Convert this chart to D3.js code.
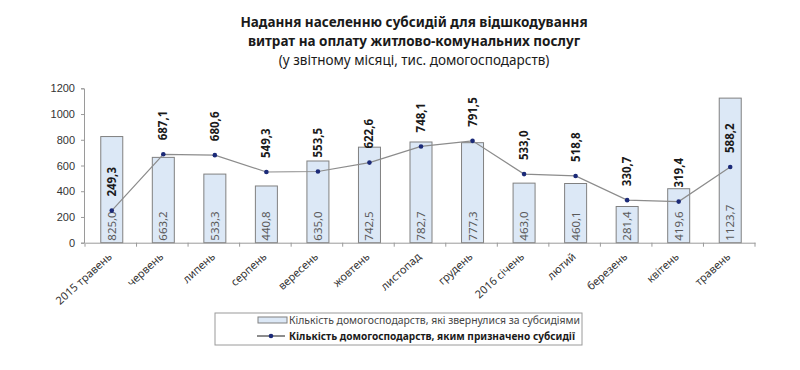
<!DOCTYPE html>
<html>
<head>
<meta charset="utf-8">
<script src="https://cdn.jsdelivr.net/npm/d3@7.9.0/dist/d3.min.js"></script>
<style>
  body { margin: 0; background: #fff; }
  svg { font-family: "Noto Sans", "DejaVu Sans", sans-serif; }
</style>
</head>
<body>
<svg id="chart" width="800" height="370"></svg>
<script>
// data
const months = ['2015 травень', 'червень', 'липень', 'серпень', 'вересень', 'жовтень',
  'листопад', 'грудень', '2016 січень', 'лютий', 'березень', 'квітень', 'травень'];
const applied = [825.0, 663.2, 533.3, 440.8, 635.0, 742.5, 782.7, 777.3, 463.0, 460.1, 281.4, 419.6, 1123.7];
const granted = [249.3, 687.1, 680.6, 549.3, 553.5, 622.6, 748.1, 791.5, 533.0, 518.8, 330.7, 319.4, 588.2];
const yTicks = [0, 200, 400, 600, 800, 1000, 1200];
const titleLines = ['Надання населенню субсидій для відшкодування',
  'витрат на оплату житлово-комунальних послуг',
  '(у звітному місяці, тис. домогосподарств)'];
const legendLabels = ['Кількість домогосподарств, які звернулися за субсидіями',
  'Кількість домогосподарств, яким призначено субсидії'];

const fmt = v => v.toFixed(1).replace('.', ',');

const svg = d3.select('#chart');

// title
svg.append('g').selectAll('text')
  .data(titleLines)
  .join('text')
  .attr('x', 414)
  .attr('y', (d, i) => 27 + i * 19)
  .attr('text-anchor', 'middle')
  .attr('font-size', 13.5)
  .attr('font-weight', (d, i) => i < 2 ? 'bold' : 'normal')
  .attr('fill', '#1a1a1a')
  .text(d => d);

const x = d3.scaleBand()
  .domain(months)
  .range([85, 755]);

const y = d3.scaleLinear()
  .domain([0, 1200])
  .range([242.7, 88.3]);

const barW = 22;

// y axis
const yAxis = svg.append('g')
  .attr('transform', 'translate(84,0)')
  .call(d3.axisLeft(y).tickValues(yTicks).tickFormat(d3.format('d')).tickSize(3).tickPadding(6));
yAxis.select('.domain').attr('stroke', '#9a9a9a');
yAxis.selectAll('.tick line').attr('stroke', '#9a9a9a');
yAxis.selectAll('.tick text').attr('font-size', 11).attr('fill', '#333');

// bars
svg.append('g').selectAll('rect')
  .data(applied)
  .join('rect')
  .attr('x', (d, i) => x(months[i]) + x.bandwidth() / 2 - barW / 2 + 1)
  .attr('y', d => y(d))
  .attr('width', barW)
  .attr('height', d => y(0) - y(d))
  .attr('fill', '#dce8f6')
  .attr('stroke', '#808080')
  .attr('stroke-width', 1);

// x axis
const xAxis = svg.append('g')
  .attr('transform', `translate(0,${y(0)})`)
  .call(d3.axisBottom(x).tickSize(0).tickFormat(''));
xAxis.select('.domain').attr('stroke', '#9a9a9a');
xAxis.selectAll('.tick').remove();
svg.append('g').selectAll('line')
  .data(d3.range(months.length + 1))
  .join('line')
  .attr('x1', i => 85 + i * x.step())
  .attr('x2', i => 85 + i * x.step())
  .attr('y1', y(0))
  .attr('y2', y(0) + 4)
  .attr('stroke', '#9a9a9a');

svg.append('g').selectAll('text')
  .data(months)
  .join('text')
  .attr('transform', d => `translate(${x(d) + x.bandwidth() / 2 + 2},${y(0) + 15}) rotate(-42)`)
  .attr('text-anchor', 'end')
  .attr('font-size', 11)
  .attr('fill', '#333')
  .text(d => d);

// bar labels (inside base)
svg.append('g').selectAll('text')
  .data(applied)
  .join('text')
  .attr('transform', (d, i) => `translate(${x(months[i]) + x.bandwidth() / 2 + 5},${y(0) - 2}) rotate(-90)`)
  .attr('font-size', 11.5)
  .attr('fill', '#5a5a5a')
  .text(d => fmt(d));

// line
const cx = (d, i) => x(months[i]) + x.bandwidth() / 2 + 1;
svg.append('path')
  .datum(granted)
  .attr('d', d3.line().x(cx).y(d => y(d)))
  .attr('fill', 'none')
  .attr('stroke', '#8c8c8c')
  .attr('stroke-width', 1.2);

svg.append('g').selectAll('circle')
  .data(granted)
  .join('circle')
  .attr('cx', cx)
  .attr('cy', d => y(d))
  .attr('r', 2.3)
  .attr('fill', '#1b2a78');

svg.append('g').selectAll('text')
  .data(granted)
  .join('text')
  .attr('transform', (d, i) => `translate(${cx(d, i) + 4},${y(d) - 14}) rotate(-90)`)
  .attr('font-size', 11.5)
  .attr('font-weight', 'bold')
  .attr('fill', '#1a1a1a')
  .text(d => fmt(d));

// legend
const lg = svg.append('g');
lg.append('rect')
  .attr('x', 215).attr('y', 313).attr('width', 367).attr('height', 32)
  .attr('fill', '#fff').attr('stroke', '#9a9a9a');
lg.append('rect')
  .attr('x', 258).attr('y', 317).attr('width', 29).attr('height', 6)
  .attr('fill', '#dce8f6').attr('stroke', '#808080');
lg.append('line')
  .attr('x1', 257).attr('x2', 285).attr('y1', 336).attr('y2', 336)
  .attr('stroke', '#1a1a1a').attr('stroke-width', 1);
lg.append('circle')
  .attr('cx', 271).attr('cy', 336).attr('r', 2.3).attr('fill', '#1b2a78');
lg.selectAll('text.lab')
  .data(legendLabels)
  .join('text')
  .attr('class', 'lab')
  .attr('x', 289)
  .attr('y', (d, i) => 324 + i * 16)
  .attr('font-size', 10.5)
  .attr('font-weight', (d, i) => i === 1 ? 'bold' : 'normal')
  .attr('fill', (d, i) => i === 1 ? '#1a1a1a' : '#444')
  .attr('textLength', (d, i) => i === 1 ? 286 : 291)
  .attr('lengthAdjust', 'spacingAndGlyphs')
  .text(d => d);
</script>
</body>
</html>
